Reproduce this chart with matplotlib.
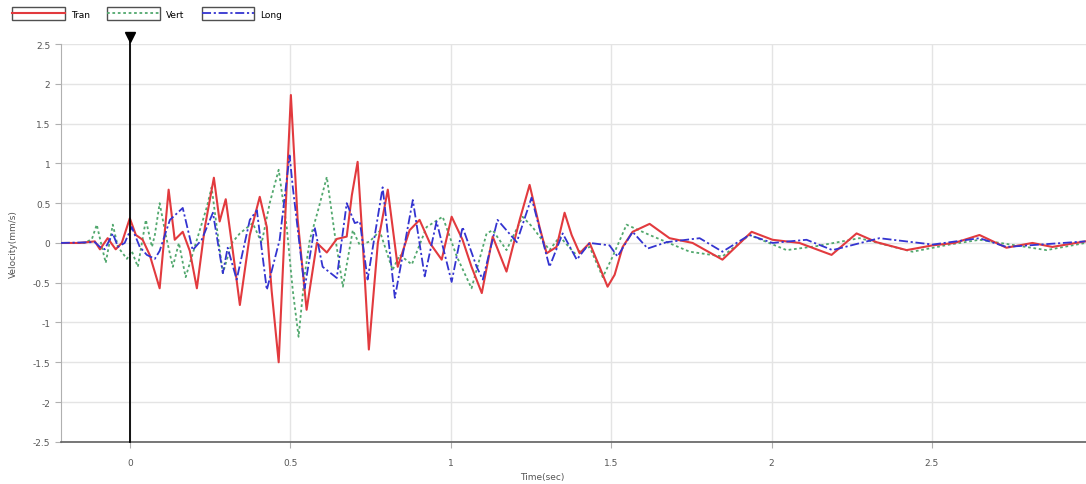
import matplotlib
matplotlib.use('Agg')
import matplotlib.pyplot as plt
from matplotlib.legend_handler import HandlerLine2D
from matplotlib.patches import Rectangle

# Velocity traces (time in sec, velocity in mm/s)
tran_t = [-0.215, -0.156, -0.109, -0.093, -0.069, -0.044, -0.025, 0.0, 0.019, 0.040,
          0.062, 0.093, 0.121, 0.140, 0.165, 0.187, 0.209, 0.234, 0.262, 0.280,
          0.299, 0.321, 0.343, 0.374, 0.405, 0.427, 0.442, 0.464, 0.483, 0.502,
          0.523, 0.551, 0.583, 0.614, 0.645, 0.676, 0.692, 0.710, 0.726, 0.745,
          0.773, 0.804, 0.835, 0.872, 0.903, 0.935, 0.972, 1.003, 1.037, 1.065,
          1.097, 1.131, 1.174, 1.215, 1.246, 1.277, 1.299, 1.330, 1.355, 1.377,
          1.402, 1.433, 1.464, 1.489, 1.511, 1.536, 1.567, 1.620, 1.682, 1.754,
          1.847, 1.938, 2.003, 2.087, 2.187, 2.265, 2.327, 2.421, 2.502, 2.570,
          2.648, 2.732, 2.813, 2.875, 2.978]
tran_v = [0.0, 0.0, 0.02, -0.08, 0.06, -0.08, 0.0, 0.31, 0.1, 0.04,
          -0.15, -0.57, 0.67, 0.04, 0.14, -0.1, -0.57, 0.2, 0.82, 0.27,
          0.55, -0.1, -0.78, 0.1, 0.58, 0.2, -0.6, -1.5, 0.2, 1.86,
          0.3, -0.84, 0.0, -0.12, 0.05, 0.08, 0.6, 1.02, 0.0, -1.34,
          0.0, 0.67, -0.3, 0.16, 0.29, 0.0, -0.21, 0.33, 0.04, -0.3,
          -0.63, 0.08, -0.36, 0.29, 0.73, 0.2, -0.13, -0.05, 0.38, 0.1,
          -0.13, 0.0, -0.3, -0.55, -0.4, -0.05, 0.14, 0.24, 0.06, 0.0,
          -0.21, 0.14, 0.04, 0.0, -0.15, 0.12, 0.01, -0.09, -0.03, 0.0,
          0.1, -0.06, 0.0, -0.05, 0.02]

vert_t = [-0.215, -0.140, -0.118, -0.103, -0.084, -0.075, -0.053, -0.037, -0.009, 0.006,
          0.025, 0.050, 0.069, 0.078, 0.093, 0.112, 0.134, 0.153, 0.174, 0.206,
          0.240, 0.255, 0.271, 0.290, 0.318, 0.343, 0.383, 0.411, 0.436, 0.464,
          0.489, 0.508, 0.526, 0.545, 0.561, 0.586, 0.614, 0.639, 0.664, 0.695,
          0.717, 0.748, 0.779, 0.819, 0.841, 0.879, 0.925, 0.975, 1.019, 1.065,
          1.112, 1.131, 1.174, 1.224, 1.255, 1.308, 1.340, 1.386, 1.433, 1.474,
          1.505, 1.548, 1.620, 1.745, 1.847, 1.931, 2.047, 2.140, 2.274, 2.439,
          2.555, 2.648, 2.857, 2.978]
vert_v = [0.0, 0.0, 0.05, 0.23, -0.1, -0.25, 0.23, -0.05, -0.2, -0.1,
          -0.3, 0.29, -0.05, 0.1, 0.5, 0.1, -0.3, 0.0, -0.43, 0.0,
          0.45, 0.7, 0.2, -0.38, 0.0, 0.12, 0.25, 0.0, 0.5, 0.92,
          0.2, -0.6, -1.18, -0.4, 0.04, 0.4, 0.83, 0.1, -0.55, 0.16,
          -0.03, 0.02, 0.15, -0.34, -0.15, -0.27, 0.2, 0.33, -0.17, -0.57,
          0.12, 0.16, -0.09, 0.33, 0.2, -0.09, 0.08, -0.13, -0.05, -0.43,
          -0.17, 0.23, 0.1, -0.11, -0.17, 0.1, -0.09, -0.04, 0.06, -0.11,
          -0.02, 0.04, -0.09, 0.0]

long_t = [-0.215, -0.109, -0.093, -0.078, -0.053, -0.037, -0.016, 0.006, 0.031, 0.053,
          0.078, 0.093, 0.125, 0.165, 0.196, 0.224, 0.259, 0.290, 0.305, 0.333,
          0.374, 0.396, 0.427, 0.467, 0.498, 0.508, 0.545, 0.576, 0.601, 0.645,
          0.676, 0.701, 0.717, 0.741, 0.788, 0.826, 0.882, 0.919, 0.956, 1.003,
          1.037, 1.081, 1.100, 1.146, 1.206, 1.252, 1.308, 1.349, 1.393, 1.433,
          1.495, 1.520, 1.567, 1.614, 1.673, 1.776, 1.847, 1.931, 2.003, 2.109,
          2.190, 2.336, 2.502, 2.648, 2.732, 2.978]
long_v = [0.0, 0.01, -0.05, -0.08, 0.12, -0.05, 0.0, 0.2, -0.05, -0.15,
          -0.2, -0.1, 0.29, 0.44, -0.09, 0.04, 0.38, -0.38, -0.06, -0.46,
          0.29, 0.41, -0.59, 0.04, 1.1, 0.7, -0.57, 0.2, -0.3, -0.44,
          0.5, 0.25, 0.27, -0.46, 0.7, -0.69, 0.54, -0.42, 0.27, -0.49,
          0.2, -0.3, -0.46, 0.29, 0.01, 0.57, -0.3, 0.12, -0.21, 0.0,
          -0.03, -0.17, 0.14, -0.07, 0.01, 0.06, -0.11, 0.1, 0.0, 0.04,
          -0.09, 0.06, -0.02, 0.06, -0.05, 0.02]

y_ticks = [-2.5, -2, -1.5, -1, -0.5, 0, 0.5, 1, 1.5, 2, 2.5]
y_labels = ['-2.5', '-2', '-1.5', '-1', '-0.5', '0', '0.5', '1', '1.5', '2', '2.5']
x_ticks = [0, 0.5, 1, 1.5, 2, 2.5]
x_labels = ['0', '0.5', '1', '1.5', '2', '2.5']
trigger_t = 0.0


class BoxedLine(HandlerLine2D):
    # legend sample drawn inside its own little frame
    def create_artists(self, legend, orig_handle, xdescent, ydescent,
                       width, height, fontsize, trans):
        arts = super().create_artists(legend, orig_handle, xdescent, ydescent,
                                      width, height, fontsize, trans)
        box = Rectangle((-xdescent, -ydescent - 0.5 * height), width, height * 2.0,
                        fill=False, edgecolor='#505050', linewidth=1.0, transform=trans)
        return [box] + arts


fig = plt.figure(figsize=(10.86, 4.85), dpi=100)
fig.patch.set_facecolor('white')
ax = fig.add_axes([0.056, 0.087, 0.944, 0.820])

red = '#e23a3e'
green = '#52a86e'
blue = '#3434d0'

l_tran, = ax.plot(tran_t, tran_v, color=red, linewidth=1.5, label='Tran', zorder=3)
l_vert, = ax.plot(vert_t, vert_v, color=green, linewidth=1.3, linestyle=(0, (1.5, 1.5)),
                  label='Vert', zorder=2)
l_long, = ax.plot(long_t, long_v, color=blue, linewidth=1.3, linestyle=(0, (5, 1.5, 1.2, 1.5)),
                  label='Long', zorder=4)

# trigger marker at t = 0
ax.plot([trigger_t, trigger_t], [-2.5, 2.59], color='black', linewidth=1.3,
        clip_on=False, zorder=5)
ax.plot([trigger_t], [2.59], marker='v', color='black', markersize=7,
        clip_on=False, zorder=6)

ax.set_xlim(-0.215, 2.98)
ax.set_ylim(-2.5, 2.5)
ax.set_yticks(y_ticks)
ax.set_yticklabels(y_labels)
ax.set_xticks(x_ticks)
ax.set_xticklabels(x_labels)
ax.grid(True, color='#e4e4e4', linewidth=1.0)
ax.set_axisbelow(True)

for side in ['top', 'right']:
    ax.spines[side].set_visible(False)
ax.spines['left'].set_color('#b0b0b0')
ax.spines['bottom'].set_color('#606060')
ax.spines['bottom'].set_linewidth(1.2)
ax.tick_params(axis='both', colors='#b0b0b0', labelcolor='#555555', labelsize=6.5,
               length=4, width=0.8)
ax.tick_params(axis='x', pad=8)

ax.set_xlabel('Time(sec)', fontsize=6.5, color='#555555')
ax.set_ylabel('Velocity(mm/s)', fontsize=6.5, color='#555555')
ax.xaxis.set_label_coords(0.47, -0.075)
ax.yaxis.set_label_coords(-0.042, 0.5)

fig.legend(handles=[l_tran, l_vert, l_long], loc='upper left', bbox_to_anchor=(0.004, 0.995),
           ncol=3, frameon=False, fontsize=6.5, handlelength=5.8, handletextpad=0.7,
           columnspacing=1.9, borderpad=0.4,
           handler_map={matplotlib.lines.Line2D: BoxedLine()})

fig.savefig('out.png', dpi=100)
